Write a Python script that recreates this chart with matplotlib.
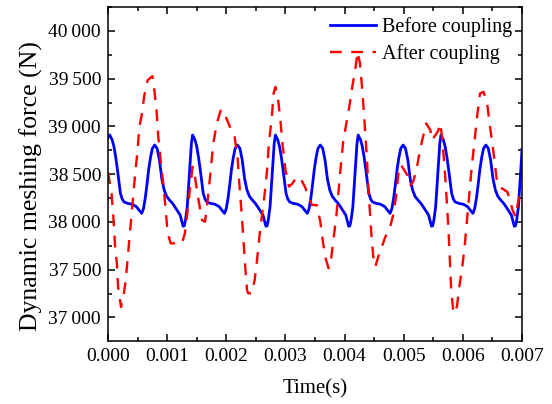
import matplotlib
matplotlib.use("Agg")
import matplotlib.pyplot as plt
import numpy as np
from matplotlib.ticker import MultipleLocator, FuncFormatter

plt.rcParams['font.family'] = ['Liberation Serif', 'DejaVu Serif']
plt.rcParams['axes.linewidth'] = 1.1

# --- data (time in ms, force in N) ---
before_t_ms = [
    0.00, 0.03, 0.07, 0.10, 0.13, 0.16, 0.19, 0.21, 0.24, 0.27, 0.33, 0.41, 0.48, 0.53,
    0.57, 0.60, 0.63, 0.66, 0.69, 0.72, 0.75, 0.79, 0.83, 0.87, 0.91, 0.95, 0.99, 1.04,
    1.09, 1.13, 1.18, 1.22, 1.25, 1.27, 1.29, 1.31, 1.34, 1.37, 1.39, 1.41,
    1.43, 1.47, 1.50, 1.53, 1.56, 1.59, 1.61, 1.64, 1.67, 1.73, 1.81, 1.88, 1.93, 1.97,
    2.00, 2.03, 2.06, 2.09, 2.12, 2.15, 2.19, 2.23, 2.27, 2.31, 2.35, 2.39, 2.44, 2.49,
    2.53, 2.58, 2.62, 2.65, 2.67, 2.69, 2.71, 2.74, 2.77, 2.79, 2.81,
    2.83, 2.87, 2.90, 2.93, 2.96, 2.99, 3.01, 3.04, 3.07, 3.13, 3.21, 3.28, 3.33, 3.37,
    3.40, 3.43, 3.46, 3.49, 3.52, 3.55, 3.59, 3.63, 3.67, 3.71, 3.75, 3.79, 3.84, 3.89,
    3.93, 3.98, 4.02, 4.05, 4.07, 4.09, 4.11, 4.14, 4.17, 4.19, 4.21,
    4.23, 4.27, 4.30, 4.33, 4.36, 4.39, 4.41, 4.44, 4.47, 4.53, 4.61, 4.68, 4.73, 4.77,
    4.80, 4.83, 4.86, 4.89, 4.92, 4.95, 4.99, 5.03, 5.07, 5.11, 5.15, 5.19, 5.24, 5.29,
    5.33, 5.38, 5.42, 5.45, 5.47, 5.49, 5.51, 5.54, 5.57, 5.59, 5.61,
    5.63, 5.67, 5.70, 5.73, 5.76, 5.79, 5.81, 5.84, 5.87, 5.93, 6.01, 6.08, 6.13, 6.17,
    6.20, 6.23, 6.26, 6.29, 6.32, 6.35, 6.39, 6.43, 6.47, 6.51, 6.55, 6.59, 6.64, 6.69,
    6.73, 6.78, 6.82, 6.85, 6.87, 6.89, 6.91, 6.94, 6.97, 6.99, 7.00,
]
before_force = (
    [38880]
    + [38910, 38860, 38790, 38680, 38545, 38400, 38300, 38240, 38210, 38195, 38185, 38160, 38120,
       38090, 38140, 38250, 38400, 38560, 38680, 38770, 38805, 38770, 38647, 38450, 38334, 38270,
       38229, 38195, 38159, 38110, 38072, 38000, 37955, 37960, 38020, 38160, 38450, 38650, 38820]
    + [38910, 38860, 38790, 38680, 38545, 38400, 38300, 38240, 38210, 38195, 38185, 38160, 38120,
       38090, 38140, 38250, 38400, 38560, 38680, 38770, 38805, 38770, 38647, 38450, 38334, 38270,
       38229, 38195, 38159, 38110, 38072, 38000, 37955, 37960, 38020, 38160, 38450, 38650, 38820]
    + [38910, 38860, 38790, 38680, 38545, 38400, 38300, 38240, 38210, 38195, 38185, 38160, 38120,
       38090, 38140, 38250, 38400, 38560, 38680, 38770, 38805, 38770, 38647, 38450, 38334, 38270,
       38229, 38195, 38159, 38110, 38072, 38000, 37955, 37960, 38020, 38160, 38450, 38650, 38820]
    + [38910, 38860, 38790, 38680, 38545, 38400, 38300, 38240, 38210, 38195, 38185, 38160, 38120,
       38090, 38140, 38250, 38400, 38560, 38680, 38770, 38805, 38770, 38647, 38450, 38334, 38270,
       38229, 38195, 38159, 38110, 38072, 38000, 37955, 37960, 38020, 38160, 38450, 38650, 38820]
    + [38910, 38860, 38790, 38680, 38545, 38400, 38300, 38240, 38210, 38195, 38185, 38160, 38120,
       38090, 38140, 38250, 38400, 38560, 38680, 38770, 38805, 38770, 38647, 38450, 38334, 38270,
       38229, 38195, 38159, 38110, 38072, 38000, 37955, 37960, 38020, 38160, 38450, 38650, 38760]
)

after_t_ms = [
    0.00, 0.06, 0.09, 0.12, 0.15, 0.17, 0.22, 0.26, 0.30, 0.34, 0.38, 0.41, 0.46, 0.50,
    0.53, 0.57, 0.61, 0.67, 0.75, 0.78, 0.82, 0.85, 0.89, 0.94, 0.98, 1.01, 1.06, 1.25,
    1.30, 1.34, 1.39, 1.43, 1.47, 1.53, 1.59, 1.64, 1.68, 1.73, 1.78, 1.84, 1.91, 1.98,
    2.06, 2.14, 2.19, 2.22, 2.26, 2.29, 2.32, 2.35, 2.37, 2.43, 2.48, 2.52, 2.56, 2.60,
    2.65, 2.69, 2.72, 2.77, 2.80, 2.83, 2.87, 2.91, 2.95, 3.00, 3.06, 3.12, 3.19, 3.27,
    3.33, 3.39, 3.45, 3.53, 3.59, 3.63, 3.67, 3.73, 3.77, 3.81, 3.86, 3.90, 3.94, 3.98,
    4.03, 4.08, 4.12, 4.18, 4.22, 4.26, 4.29, 4.32, 4.35, 4.38, 4.40, 4.43, 4.46, 4.49,
    4.52, 4.57, 4.63, 4.69, 4.77, 4.83, 4.87, 4.91, 4.95, 5.08, 5.11, 5.16, 5.22, 5.28,
    5.34, 5.38, 5.45, 5.48, 5.58, 5.62, 5.65, 5.67, 5.70, 5.73, 5.76, 5.78, 5.80, 5.84,
    5.90, 5.94, 5.99, 6.03, 6.07, 6.11, 6.15, 6.20, 6.24, 6.29, 6.35, 6.41, 6.46, 6.52,
    6.58, 6.66, 6.75, 6.80, 6.84, 6.89, 6.94, 7.00,
]
after_force = [
    38520, 38300, 38055, 37740, 37567, 37322, 37110, 37218, 37392, 37672, 37950, 38159, 38508, 38752,
    38996, 39118, 39310, 39484, 39526, 39397, 39170, 38891, 38647, 38368, 38090, 37881, 37776, 37776,
    37881, 38090, 38368, 38577, 38473, 38229, 38020, 38002, 38200, 38500, 38822, 39031, 39178, 39118,
    38996, 38891, 38682, 38404, 38090, 37811, 37532, 37288, 37253, 37253, 37392, 37601, 37845, 38055,
    38299, 38543, 38822, 39101, 39345, 39414, 39310, 39101, 38822, 38543, 38370, 38404, 38473, 38438,
    38368, 38264, 38177, 38177, 38002, 37811, 37637, 37515, 37601, 37811, 38055, 38333, 38613, 38857,
    39031, 39205, 39380, 39589, 39780, 39659, 39450, 39205, 38927, 38648, 38368, 38090, 37811, 37601,
    37532, 37637, 37741, 37845, 37950, 38090, 38264, 38508, 38600, 38473, 38385, 38420, 38560, 38770,
    38926, 39031, 38961, 38857, 38950, 39031, 38875, 38730, 38490, 38195, 37881, 37601, 37322, 37044,
    37113, 37322, 37532, 37741, 38020, 38299, 38577, 38857, 39101, 39345, 39362, 39240, 38996, 38718,
    38404, 38352, 38316, 38229, 38125, 38055, 38229, 38350,
]

before_t = np.array(before_t_ms) / 1000.0
after_t = np.array(after_t_ms) / 1000.0

fig = plt.figure(figsize=(5.52, 4.04), dpi=100)
ax = fig.add_axes([108 / 552, 1 - 341 / 404, 414 / 552, 334 / 404])

ax.plot(before_t, before_force, color="#0000FF", linewidth=2.0, label="Before coupling")
ax.plot(after_t, after_force, color="#FF0000", linewidth=1.7, dashes=(5, 4),
        label="After coupling")

ax.set_xlim(0, 0.007)
ax.set_ylim(36754, 40250)

ax.xaxis.set_major_locator(MultipleLocator(0.001))
ax.xaxis.set_minor_locator(MultipleLocator(0.0005))
ax.yaxis.set_major_locator(MultipleLocator(500))
ax.yaxis.set_minor_locator(MultipleLocator(250))
ax.xaxis.set_major_formatter(FuncFormatter(lambda v, p: f"{v:.3f}"))
ax.yaxis.set_major_formatter(
    FuncFormatter(lambda v, p: f"{int(round(v)) // 1000}\u2009{int(round(v)) % 1000:03d}"))

ax.tick_params(which='both', direction='in', top=True, right=True, width=1.1)
ax.tick_params(which='major', length=5, labelsize=14, pad=5)
ax.tick_params(which='minor', length=3)

ax.set_xlabel("Time(s)", fontsize=15, labelpad=10)
ax.set_ylabel("Dynamic meshing force (N)", fontsize=18.5)
ax.yaxis.set_label_coords(-0.157, 0.464)

ax.legend(loc='upper right', bbox_to_anchor=(0.975, 0.97), frameon=False,
          fontsize=14.5, borderpad=0, borderaxespad=0, handlelength=2.3,
          handletextpad=0.25, labelspacing=0.35)

fig.savefig("out.png", dpi=100)
